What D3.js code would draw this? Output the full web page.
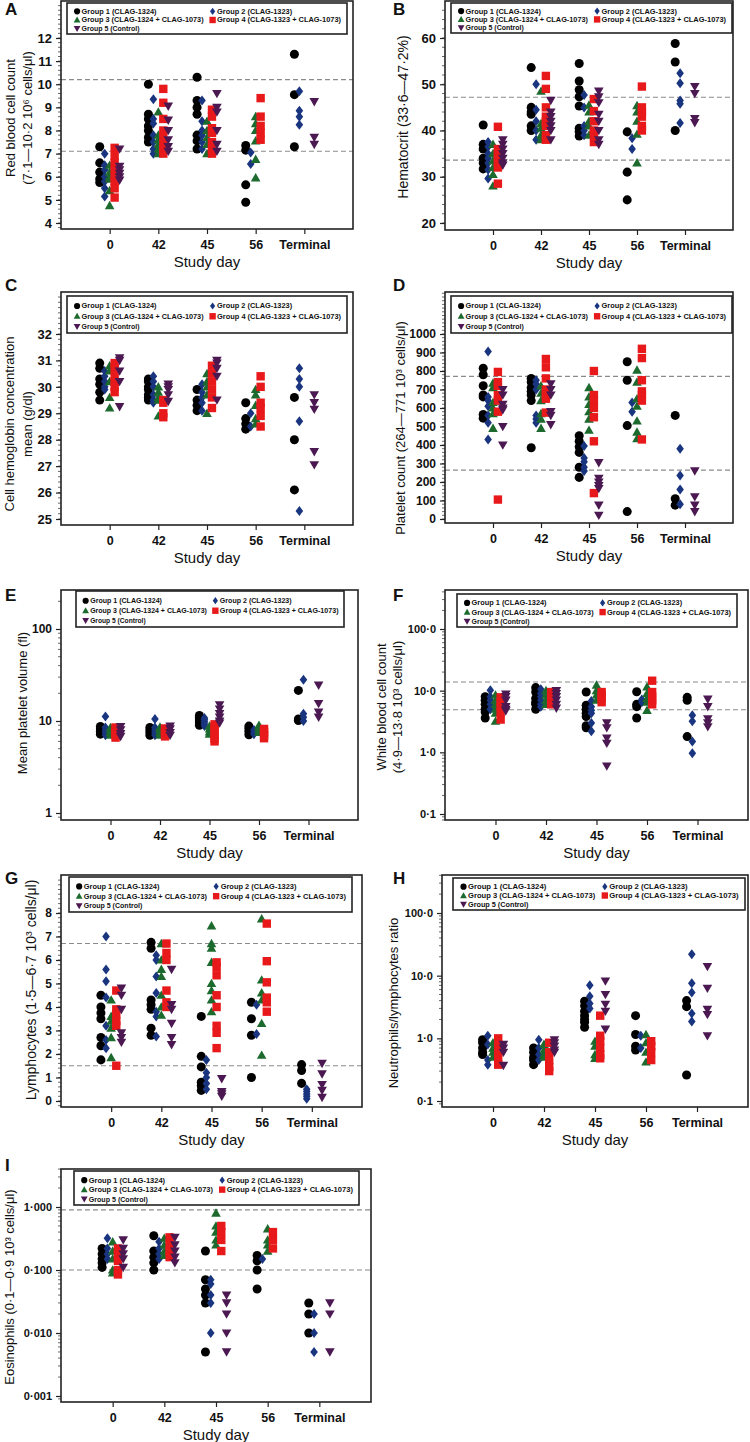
<!DOCTYPE html>
<html><head><meta charset="utf-8">
<script src="https://cdn.jsdelivr.net/npm/d3@7"></script>
<style>body{margin:0;background:#fff}svg{display:block}text{font-family:"Liberation Sans",Arial,sans-serif}</style>
</head><body>
<svg id="chart" width="750" height="1442"></svg>
<script>
// ---------- categories / groups ----------
const days = ["0","42","45","56","Terminal"];
const groupNames = ["Group 1 (CLAG-1324)","Group 2 (CLAG-1323)","Group 3 (CLAG-1324 + CLAG-1073)","Group 4 (CLAG-1323 + CLAG-1073)","Group 5 (Control)"];
const groupColors = ["#000000","#19357f","#1c6a2e","#e8191b","#4b1852"];

// ---------- series values: [group][day][animals] ----------
const rbc = [
 [[7.3,6.6,6.2,5.9,5.75],[10.0,8.7,8.5,8.2,8.0,7.7,7.5],[10.3,9.3,9.0,8.7,7.8,7.55,7.2],[7.35,7.15,5.65,4.9],[11.3,9.55,7.3]],
 [[7.0,6.5,6.3,6.0,5.8,5.5,5.15],[9.35,8.5,8.3,7.8,7.5,7.2,7.0],[9.3,8.4,8.0,7.8,7.5,7.2],[7.05,6.55],[9.7,8.85,8.6,8.25]],
 [[6.5,6.2,6.0,5.9,5.4,4.75],[8.8,7.8,7.6,7.4,7.2,7.0],[8.4,8.0,7.7,7.4,7.0],[8.6,8.3,8.0,7.55,6.75,5.95],[]],
 [[7.25,6.9,6.6,6.3,6.0,5.8,5.5,5.1],[9.8,9.2,8.5,8.0,7.7,7.4,7.2,7.0],[8.9,8.6,8.1,7.9,7.5,7.2,7.0],[9.4,8.6,8.2,7.9,7.6],[]],
 [[7.2,6.45,6.3,6.15,6.0,5.85],[9.05,8.45,8.0,7.6,7.3,7.1],[9.6,9.0,8.8,8.0,7.4,7.1],[],[9.25,7.7,7.4]]
];
const hct = [
 [[41.2,37.0,36.0,34.0,33.0,31.7],[53.6,45.0,44.0,43.5,41.0,40.0],[54.5,50.7,48.8,47.3,45.3,40.5,39.8,38.8],[39.7,31.0,25.0],[58.8,54.8,40.0]],
 [[37.5,36.5,35.0,34.0,33.0,31.5,29.6],[50.0,44.5,42.0,40.0,38.0],[47.7,45.0,41.0,40.0,39.0],[38.3,36.0],[52.4,50.2,46.5,45.8,41.6]],
 [[37.0,35.0,33.5,32.0,30.5,28.0],[48.5,41.5,40.5,39.0,38.0],[45.5,44.0,42.0,41.0,39.0],[45.4,44.0,42.0,39.2,33.0],[]],
 [[40.8,36.0,35.0,34.0,33.0,32.0,28.5],[51.8,49.0,45.0,43.0,42.0,41.0,39.0,38.0],[46.8,44.2,42.0,40.0,39.3,37.5],[49.5,45.0,44.0,43.0,41.0,40.0],[]],
 [[38.0,37.0,36.0,35.0,34.0,33.0,32.5],[46.5,44.0,43.0,42.0,41.0,40.0,38.0],[48.5,47.3,46.0,43.5,42.0,40.0,38.0,37.0],[],[49.5,48.0,42.6,41.7]]
];
const mchc = [
 [[30.9,30.7,30.3,30.1,29.8,29.5],[30.3,30.2,30.0,29.9,29.7,29.6,29.5],[29.9,29.5,29.3,29.1],[29.4,28.8,28.6,28.4],[29.6,28.0,26.1]],
 [[30.6,30.4,30.2,30.0,29.9],[30.4,30.2,30.0,29.7,29.5,29.4],[30.1,29.8,29.6,29.4,29.1],[29.0,28.5],[30.7,30.3,30.0,28.7,25.3]],
 [[30.8,30.6,30.2,29.6,29.2],[30.0,29.8,29.6,29.5,28.9],[30.5,30.2,30.0,29.7,29.0],[29.9,29.7,29.3,28.8,28.6],[]],
 [[30.9,30.7,30.4,30.2,30.0,29.8],[29.5,29.4,29.0,28.85],[30.8,30.5,30.2,29.9,29.6,29.2],[30.4,30.0,29.4,29.2,28.9,28.5],[]],
 [[31.1,31.0,30.6,30.2,29.25],[30.1,30.0,29.9,29.7,29.45],[31.0,30.9,30.7,30.4,29.5],[],[29.7,29.4,29.15,27.55,27.05]]
];
const plt = [
 [[815,780,720,670,660,565,545],[760,740,710,690,670,640,385],[450,420,390,360,280,225],[850,750,505,40],[560,110,75]],
 [[905,660,640,610,560,520,430],[750,730,700,560,540,520],[395,330,310,280,260],[630,580],[380,235,160,80]],
 [[735,710,630,600,570,490],[720,680,640,570,540,490],[710,660,620,580,540,480],[805,740,650,610,530,470,435],[]],
 [[795,740,720,670,640,580,105],[865,820,760,700,670,650,575],[800,670,640,600,550,420,140],[920,870,750,690,670,640,430],[]],
 [[700,670,620,600,590,500,400],[730,700,670,580,560,510],[305,220,200,180,165,75,20],[],[260,120,75,40]]
];
const mpv = [
 [[8.7,8.2,7.7,7.2],[8.5,8.0,7.5,7.0],[11.5,11.0,10.5,10.0,9.5,9.0],[8.8,8.3,7.7,7.1],[21.5,10.5,10.1]],
 [[11.2,8.5,8.0,7.5,7.0],[10.5,8.5,8.0,7.5,7.0],[10.8,10.3,9.8,9.3,8.8],[8.0,7.5,7.2],[28,12,11,10]],
 [[8.5,8.0,7.5,7.0],[8.6,8.1,7.5,7.0],[8.8,8.2,7.6,7.2],[9.0,8.5,8.0,7.5],[]],
 [[8.5,8.0,7.5,7.0,6.6],[8.3,7.8,7.2,6.8],[9.2,8.5,7.8,7.0,6.4,6.0],[8.2,7.6,7.0,6.5],[]],
 [[8.7,8.0,7.3,6.8],[8.8,8.2,7.5,7.0],[15,13.5,12,11,10,9.5],[],[24.5,15.5,12.5,11]]
];
const wbc = [
 [[8.0,7.0,6.0,5.0,4.5,3.6],[11.2,9.5,7.5,6.5,6.0,5.0],[9.5,5.8,5.0,4.3,3.8,2.7,2.5],[9.6,6.0,5.5,3.6],[7.8,7.0,1.8]],
 [[10.2,8.0,7.0,6.0,5.0],[10.5,9.0,8.0,7.0,6.0,5.5],[6.8,5.5,4.8,4.3,3.0,2.2],[7.2,6.5],[4.0,3.2,1.5,0.97]],
 [[8.5,7.0,6.0,5.0,4.3,3.2],[10.0,8.5,7.0,6.0],[12.3,10.0,8.5,7.0],[11.5,9.0,7.5,6.5,4.8],[]],
 [[7.8,6.5,5.5,4.5,3.4],[9.5,8.0,7.0,6.0],[9.5,8.5,7.5,6.5],[14.5,9.5,8.0,7.0,6.0],[]],
 [[8.8,8.0,7.0,5.5,5.0,4.7],[10.0,9.0,8.0,7.0,6.0,5.2],[3.0,2.5,1.7,1.4,0.6],[],[7.3,5.5,3.5,3.0,2.6]]
];
const lym = [
 [[4.5,4.0,3.75,3.5,2.7,2.35,1.75],[6.75,6.5,4.3,4.1,3.9,3.1,2.8],[3.6,1.9,1.45,0.8,0.65,0.45],[4.2,3.5,2.8,1.0],[1.55,1.3,0.75]],
 [[7.0,5.6,5.1,4.4,3.2,2.6,2.25],[6.2,6.0,5.3,4.6,3.8,3.6,2.75],[1.75,1.2,1.0,0.75,0.5],[4.1,2.85],[0.5,0.4,0.3,0.2,0.1]],
 [[4.3,3.6,3.4,3.1,2.7,1.85],[6.7,6.0,5.6,5.3,4.5,4.0,3.65],[7.45,6.7,6.5,5.9,5.0,4.7,4.3,3.8],[7.75,5.15,4.6,4.3,3.3,1.95],[]],
 [[4.7,3.9,3.7,3.4,3.2,1.5],[6.7,6.3,6.0,4.7,4.2,4.0],[5.9,5.7,5.35,4.5,4.0,3.2,2.9,2.25],[7.55,5.95,5.05,4.4,4.2,3.8],[]],
 [[4.8,4.5,3.9,2.9,2.7,2.5],[5.6,4.1,3.9,3.3,2.7,2.4],[0.95,0.4,0.3,0.2],[],[1.6,1.15,0.7,0.45,0.15]]
];
const nlr = [
 [[0.95,0.85,0.7,0.6,0.55],[0.7,0.6,0.5,0.45,0.38],[3.9,3.3,2.7,2.3,2.0,1.8,1.5],[2.3,1.15,0.75,0.65],[4.0,3.2,0.26]],
 [[1.1,0.8,0.45,0.38],[0.95,0.7,0.55,0.45],[7.0,4.7,3.6,3.0],[1.1,0.7],[22,7.6,5.4,2.5,1.85]],
 [[0.85,0.7,0.6,0.5],[0.8,0.65,0.55,0.5],[0.9,0.75,0.55,0.48],[1.15,0.85,0.6,0.42],[]],
 [[1.0,0.8,0.6,0.45,0.38],[0.85,0.6,0.45,0.35,0.3],[2.3,1.1,0.9,0.7,0.55,0.48],[0.9,0.75,0.6,0.45],[]],
 [[0.8,0.7,0.6,0.37],[0.95,0.85,0.75,0.65,0.6],[8.2,5.0,3.5,2.7,1.4],[],[14,6.3,2.9,2.4,1.1]]
];
const eos = [
 [[0.22,0.18,0.15,0.13,0.11],[0.35,0.2,0.16,0.13,0.1],[0.2,0.07,0.05,0.04,0.03,0.005],[0.17,0.14,0.1,0.05],[0.03,0.02,0.01]],
 [[0.32,0.22,0.18,0.15],[0.28,0.22,0.18,0.15],[0.07,0.06,0.04,0.03,0.01],[0.15],[0.02,0.01,0.005]],
 [[0.28,0.2,0.15,0.1,0.09],[0.32,0.25,0.2,0.17],[0.8,0.5,0.4,0.3,0.25],[0.45,0.3,0.25,0.2],[]],
 [[0.22,0.18,0.14,0.1,0.085],[0.33,0.25,0.2,0.16],[0.5,0.4,0.3,0.2],[0.4,0.3,0.22],[]],
 [[0.3,0.22,0.18,0.15,0.11],[0.33,0.25,0.2,0.16,0.13],[0.04,0.03,0.02,0.01,0.005],[],[0.03,0.02,0.005]]
];

// ---------- reference ranges ----------
const rbcRef = [7.1,10.2], hctRef = [33.6,47.2], pltRef = [264,771], wbcRef = [4.9,13.8], lymRef = [1.5,6.7], eosRef = [0.1,0.9];

// ---------- tick values / labels ----------
const rbcTicks = [4,5,6,7,8,9,10,11,12];
const hctTicks = [20,30,40,50,60];
const mchcTicks = [25,26,27,28,29,30,31,32];
const pltTicks = [0,100,200,300,400,500,600,700,800,900,1000];
const mpvTicks = [1,10,100], mpvTickLabels = ["1","10","100"];
const wbcTicks = [0.1,1,10,100], wbcTickLabels = ["0·1","1·0","10·0","100·0"];
const lymTicks = [0,1,2,3,4,5,6,7,8];
const nlrTicks = [0.1,1,10,100], nlrTickLabels = ["0·1","1·0","10·0","100·0"];
const eosTicks = [0.001,0.01,0.1,1], eosTickLabels = ["0·001","0·010","0·100","1·000"];

// ---------- panel layout (pixels) ----------
const panels = [
 {letter:"A",lp:[5,15],data:rbc,log:false,ticks:rbcTicks,labels:null,minor:0.2,dom:[4,12],rng:[223,38],ref:rbcRef,
  f:[61,1,353,229],lg:[67,3,347,34],ylab:["Red blood cell count","(7·1—10·2 10⁶ cells/μl)"],yx:[10,27],yy:118,fs:13,tfs:13},
 {letter:"B",lp:[393,15],data:hct,log:false,ticks:hctTicks,labels:null,minor:2,dom:[20,60],rng:[223,38],ref:hctRef,
  f:[445,1,733,230],lg:[451,3,732,33],ylab:["Hematocrit (33·6—47·2%)"],yx:[403],yy:117,fs:14,tfs:13},
 {letter:"C",lp:[5,291],data:mchc,log:false,ticks:mchcTicks,labels:null,minor:0.2,dom:[25,32],rng:[519,334],ref:null,
  f:[61,292,353,525],lg:[67,296,347,333],ylab:["Cell hemoglobin concentration","mean (g/dl)"],yx:[9,27],yy:424,fs:13,tfs:13},
 {letter:"D",lp:[393,291],data:plt,log:false,ticks:pltTicks,labels:null,minor:20,dom:[0,1000],rng:[519,334],ref:pltRef,
  f:[445,292,733,523],lg:[451,296,732,333],ylab:["Platelet  count (264—771 10³ cells/μl)"],yx:[400],yy:428,fs:13,tfs:12},
 {letter:"E",lp:[5,601],data:mpv,log:true,ticks:mpvTicks,labels:mpvTickLabels,dom:[1,100],rng:[813,629],ref:null,
  f:[61,590,358,820],lg:[76,591,344,627],ylab:["Mean platelet volume (fl)"],yx:[22],yy:703,fs:13,tfs:12},
 {letter:"F",lp:[393,601],data:wbc,log:true,ticks:wbcTicks,labels:wbcTickLabels,dom:[0.1,100],rng:[814,629],ref:wbcRef,
  f:[445,590,748,820],lg:[457,594,737,627],ylab:["White blood cell count","(4·9—13·8 10³ cells/μl)"],yx:[381,397],yy:707,fs:13,tfs:11},
 {letter:"G",lp:[5,884],data:lym,log:false,ticks:lymTicks,labels:null,minor:0.2,dom:[0,8],rng:[1101,913],ref:lymRef,
  f:[61,875,362,1107],lg:[69,877,352,912],ylab:["Lymphocytes (1·5—6·7 10³ cells/μl)"],yx:[31],yy:990,fs:14,tfs:12},
 {letter:"H",lp:[393,884],data:nlr,log:true,ticks:nlrTicks,labels:nlrTickLabels,dom:[0.1,100],rng:[1101,913],ref:null,
  f:[442,875,748,1107],lg:[453,878,745,910],ylab:["Neutrophils/lymphocytes ratio"],yx:[393],yy:1003,fs:13,tfs:11},
 {letter:"I",lp:[5,1171],data:eos,log:true,ticks:eosTicks,labels:eosTickLabels,dom:[0.001,1],rng:[1396,1207],ref:eosRef,
  f:[61,1169,371,1402],lg:[74,1171,359,1205],ylab:["Eosinophils (0·1—0·9 10³ cells/μl)"],yx:[9],yy:1287,fs:13,tfs:11}
];

// ---------- marker shapes ----------
function shapePath(g){
  switch(g){
    case 0: return d3.symbol().type(d3.symbolCircle).size(64)();
    case 1: return "M0,-5L3.8,0L0,5L-3.8,0Z";
    case 2: return "M0,-4.8L4.8,3.6L-4.8,3.6Z";
    case 3: return "M-4.2,-4.2H4.2V4.2H-4.2Z";
    case 4: return "M0,4.8L4.8,-3.6L-4.8,-3.6Z";
  }
}
function legendShape(g){
  switch(g){
    case 0: return d3.symbol().type(d3.symbolCircle).size(30)();
    case 1: return "M0,-3.6L2.6,0L0,3.6L-2.6,0Z";
    case 2: return "M0,-3.4L3.4,2.6L-3.4,2.6Z";
    case 3: return "M-3.2,-3.2H3.2V3.2H-3.2Z";
    case 4: return "M0,3.4L3.4,-2.6L-3.4,-2.6Z";
  }
}
const offsets = [-10,-5,0,5,10];

const svg = d3.select("#chart");
const FONT = '"Liberation Sans",Arial,sans-serif';

panels.forEach(p=>{
  const [x0,y0,x1,y1] = p.f;
  const g = svg.append("g");
  const x = d3.scalePoint().domain(days).range([x0,x1]).padding(1);
  const y = (p.log ? d3.scaleLog() : d3.scaleLinear()).domain(p.dom).range(p.rng);
  const sc = x.step()/49;

  // reference lines
  if(p.ref) p.ref.forEach(v=>{
    g.append("line").attr("x1",x0).attr("x2",x1).attr("y1",y(v)).attr("y2",y(v))
     .attr("stroke","#8a8a8a").attr("stroke-width",1.1).attr("stroke-dasharray","5,3");
  });

  // minor ticks
  let minors = [];
  if(p.log){
    const lo = Math.floor(Math.log10(y.invert(y1))), hi = Math.ceil(Math.log10(y.invert(y0)));
    for(let e=lo;e<=hi;e++) for(let k=2;k<=9;k++){ const v=k*Math.pow(10,e); const py=y(v); if(py>y0&&py<y1) minors.push(py); }
  } else {
    const vmin = y.invert(y1), vmax = y.invert(y0);
    for(let v=Math.ceil(vmin/p.minor)*p.minor; v<=vmax; v+=p.minor){ const py=y(v); if(py>y0+1&&py<y1-1) minors.push(py); }
  }
  g.selectAll(".mn").data(minors).enter().append("line")
    .attr("x1",x0-3).attr("x2",x0).attr("y1",d=>d).attr("y2",d=>d).attr("stroke","#444").attr("stroke-width",0.8);

  // major y ticks
  const yAxis = (p.log? d3.axisLeft(y).tickValues(p.ticks).tickFormat((d,i)=>p.labels[i]) : d3.axisLeft(y).tickValues(p.ticks).tickFormat(d3.format("d")))
     .tickSize(5).tickPadding(4);
  const ya = g.append("g").attr("transform",`translate(${x0},0)`).call(yAxis);
  ya.select(".domain").remove();
  ya.selectAll("line").attr("stroke","#222").attr("stroke-width",1.2);
  ya.selectAll("text").attr("font-family",FONT).attr("font-size",p.tfs).attr("font-weight","bold").attr("fill","#111");

  // x axis
  const xa = g.append("g").attr("transform",`translate(0,${y1})`).call(d3.axisBottom(x).tickSize(5).tickPadding(6));
  xa.select(".domain").remove();
  xa.selectAll("line").attr("stroke","#222").attr("stroke-width",1.2);
  xa.selectAll("text").attr("font-family",FONT).attr("font-size",12.5).attr("font-weight","bold").attr("fill","#111");

  // frame
  g.append("rect").attr("x",x0).attr("y",y0).attr("width",x1-x0).attr("height",y1-y0)
    .attr("fill","none").attr("stroke","#222").attr("stroke-width",1.6);

  // x title
  g.append("text").attr("x",(x0+x1)/2).attr("y",y1+38).attr("text-anchor","middle")
    .attr("font-family",FONT).attr("font-size",15).attr("fill","#111").text("Study day");

  // y label
  p.ylab.forEach((t,i)=>{
    g.append("text").attr("transform",`translate(${p.yx[i]},${p.yy}) rotate(-90)`)
     .attr("text-anchor","middle").attr("dominant-baseline","central")
     .attr("font-family",FONT).attr("font-size",p.fs).attr("fill","#111").text(t);
  });

  // panel letter
  g.append("text").attr("x",p.lp[0]).attr("y",p.lp[1]).attr("font-family",FONT).attr("font-size",17)
   .attr("font-weight","bold").attr("fill","#111").text(p.letter);

  // points
  p.data.forEach((grp,gi)=>{
    const pts = [];
    grp.forEach((vals,di)=>vals.forEach(v=>pts.push({d:days[di],v})));
    g.selectAll(null).data(pts).enter().append("path")
      .attr("d",shapePath(gi))
      .attr("transform",d=>`translate(${x(d.d)+offsets[gi]*sc},${y(d.v)})`)
      .attr("fill",groupColors[gi]);
  });

  // legend
  const [lx0,ly0,lx1,ly1] = p.lg;
  const lw = lx1-lx0, lh = ly1-ly0;
  g.append("rect").attr("x",lx0).attr("y",ly0).attr("width",lw).attr("height",lh)
    .attr("fill","#fff").attr("stroke","#222").attr("stroke-width",1.6);
  const rowH = lh/3.6;
  const cols = [lx0+lw*0.036, lx0+lw*0.52];
  const lenK = lw/280;
  const textLens = [75,75,122,124,58];
  groupNames.forEach((nm,gi)=>{
    const cx = cols[gi%2], cy = ly0 + lh*0.27 + Math.floor(gi/2)*rowH;
    g.append("path").attr("d",legendShape(gi)).attr("transform",`translate(${cx},${cy})`).attr("fill",groupColors[gi]);
    g.append("text").attr("x",cx+4.5).attr("y",cy).attr("dominant-baseline","central")
     .attr("font-family",FONT).attr("font-size",8).attr("font-weight","bold").attr("fill","#111")
     .attr("textLength",textLens[gi]*lenK).attr("lengthAdjust","spacingAndGlyphs").text(nm);
  });
});
</script>
</body></html>
